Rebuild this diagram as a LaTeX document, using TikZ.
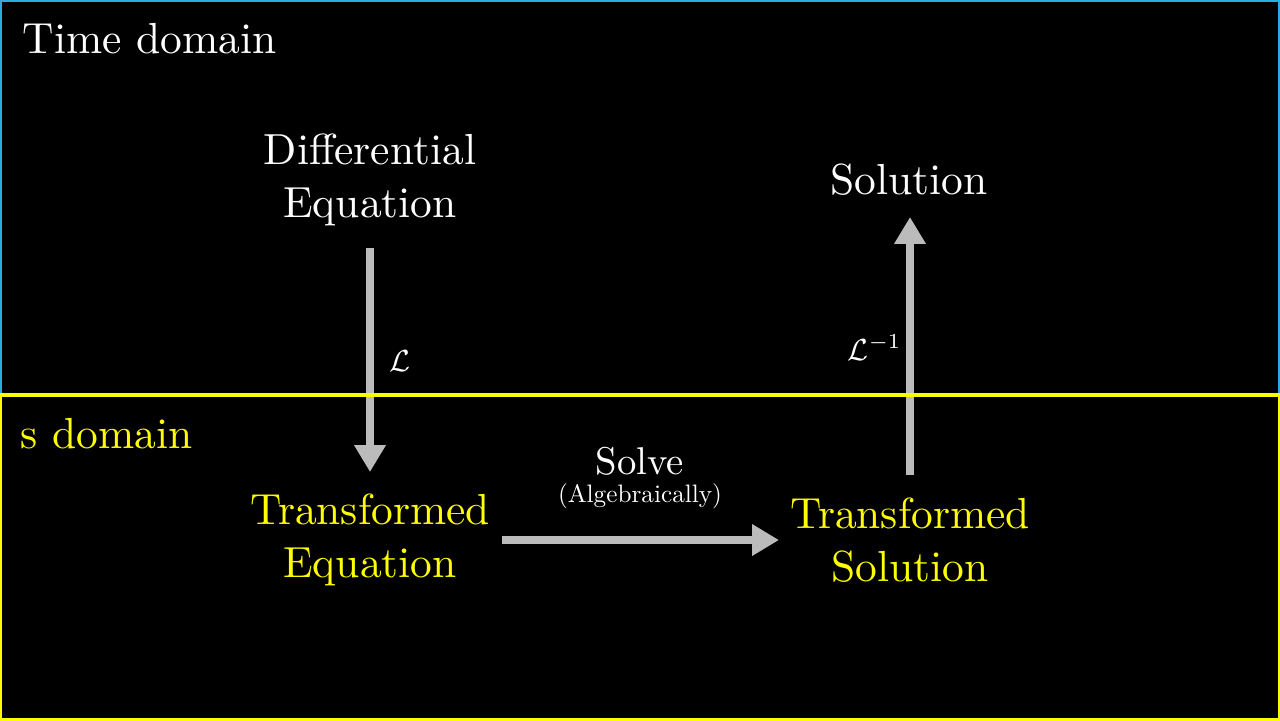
\documentclass[tikz,border=0pt]{standalone}
\usepackage{fontspec}
\setmainfont{lmroman10-regular.otf}
\usepackage{graphicx}
\usetikzlibrary{arrows.meta}
\definecolor{tdblue}{HTML}{29ABE2}
\definecolor{sdyellow}{HTML}{FFFF00}
\definecolor{arrgray}{HTML}{BBBBBB}
\begin{document}
\begin{tikzpicture}[x=0.23pt,y=-0.23pt,
  lbl/.style={text=white,inner sep=0pt,font=\fontsize{10}{12.3}\selectfont},
  ylbl/.style={lbl,text=sdyellow},
  flow/.style={draw=arrgray,line width=1.84pt,-{Triangle[width=6.9pt,length=6.2pt]}},
  frame/.style={line width=1pt}]
\useasboundingbox (0,0) rectangle (1280,720);
\fill[black] (0,0) rectangle (1280,720);
% labels
\node[lbl,anchor=base west] (time) at (22,53) {Time domain};
\node[ylbl,anchor=base west] (sdom) at (20,448) {s domain};
\node[lbl,anchor=base] (de) at (370,164) {\begin{tabular}[t]{@{}c@{}}Differential\\Equation\end{tabular}};
\node[lbl,anchor=base] (sol) at (909,194) {Solution};
\node[ylbl,anchor=base] (te) at (370,524) {\begin{tabular}[t]{@{}c@{}}Transformed\\Equation\end{tabular}};
\node[ylbl,anchor=base] (ts) at (910,528) {\begin{tabular}[t]{@{}c@{}}Transformed\\Solution\end{tabular}};
\node[lbl,anchor=base,font=\fontsize{8.9}{10}\selectfont] (solve) at (640,474) {Solve};
\node[lbl,anchor=base,font=\fontsize{5.8}{7}\selectfont] (alg) at (640,502) {(Algebraically)};
\node[lbl,anchor=base west] (lap) at (389,371) {\scalebox{0.7}{$\mathcal{L}$}};
\node[lbl,anchor=base west] (ilap) at (847,360) {\scalebox{0.7}{$\mathcal{L}^{-1}$}};
% arrow ends
\coordinate (a1s) at (370,248);
\coordinate (a1e) at (370,472);
\coordinate (a2s) at (502,540);
\coordinate (a2e) at (779,540);
\coordinate (a3s) at (910,475);
\coordinate (a3e) at (910,217);
\draw[flow] (a1s) -- (a1e);
\draw[flow] (a2s) -- (a2e);
\draw[flow] (a3s) -- (a3e);
% domain frames
\draw[tdblue,frame] (0,0) rectangle (1280,395);
\draw[sdyellow,frame] (0,395) rectangle (1280,720);
\end{tikzpicture}
\end{document}
